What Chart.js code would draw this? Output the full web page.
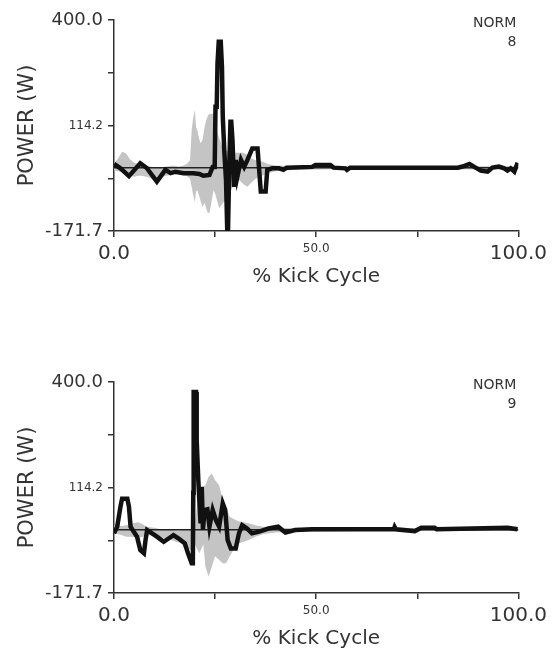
<!DOCTYPE html>
<html>
<head>
<meta charset="utf-8">
<script src="https://cdn.jsdelivr.net/npm/chart.js@4.4.0/dist/chart.umd.min.js"></script>
<style>
    body { margin: 0; background: #fff; width: 552px; height: 649px; overflow: hidden; }
    .panel { position: absolute; left: 0; width: 552px; height: 287px; }
</style>
</head>
<body>
<div class="panel" style="top:0px"><canvas id="chartTop" width="552" height="287"></canvas></div>
<div class="panel" style="top:362px"><canvas id="chartBottom" width="552" height="287"></canvas></div>
<script>
// axis ticks and labels
const xTicks = [0, 25, 50, 75, 100];
const xTickLabels = ['0.0', '', '50.0', '', '100.0'];
const yTicks = [-171.7, -28.775, 114.15, 257.075, 400];
const yTickLabels = ['-171.7', '', '114.2', '', '400.0'];
const zeroLineX = [0, 100];
const zeroLineY = [0, 0];

// panel 8 - subject curve (black)
const topLineX = [0, 1.6, 3.7, 6.5, 8.1, 10.6, 12.7, 14.0, 15.2, 17.2, 19.6, 21.1, 22.1, 23.6, 24.4,
    24.9, 25.1, 25.4, 25.6, 25.9, 26.4, 26.7, 26.9, 27.3, 27.7, 28.0, 28.2, 28.5, 28.8, 29.0, 29.3,
    29.7, 30.1, 30.5, 31.4, 32.2, 33.0, 34.2, 35.5, 35.9, 36.3, 37.5, 37.9, 39.1, 40.8, 41.9, 42.7,
    49.0, 49.8, 53.5, 54.3, 57.2, 57.6, 58.4, 85.0, 86.2, 87.9, 89.1, 90.7, 92.4, 93.6, 95.2, 96.5,
    97.3, 98.1, 99.0, 99.8];
const topLineY = [10, -2, -23, 12, -1, -38, -6, -15, -11, -15, -15, -17, -22, -20, 2,
    2, 165, 165, 283, 341, 341, 273, 138, 40, -34, -168, -168, 0, 124, 124, 75,
    -52, 21, -25, 21, 2, 21, 52, 52, -6, -65, -65, -6, -2, -2, -6, 0,
    2, 7, 7, 0, -2, -6, 0, 0, 3, 10, 2, -8, -11, 0, 3, -2,
    -8, -2, -11, 13];

// panel 8 - normal range (grey band)
const topBandX = [0, 1, 2, 3, 4, 5, 6, 7, 8, 9, 10, 11, 12, 13, 14, 15, 16, 17, 18, 18.8, 19.2, 19.5,
    20.0, 20.3, 20.6, 21.0, 21.4, 21.9, 22.4, 22.8, 23.2, 23.6, 24.0, 24.6, 25.0, 25.5, 26.0, 27.0,
    28.0, 29.0, 30.0, 31.0, 32.0, 33.0, 34.0, 35.0, 36.0, 37.0, 38.0, 40.0, 45.0, 50.0, 60.0, 70.0,
    80.0, 90.0, 100.0];
const topBandHi = [12, 25, 43, 38, 22, 13, 10, 8, 5, 3, 0, 2, 0, 3, 5, 5, 3, 5, 10, 21, 100, 129,
    156, 110, 102, 80, 66, 75, 110, 129, 140, 147, 145, 147, 138, 100, 80, 50,
    45, 40, 40, 40, 40, 35, 25, 20, 18, 15, 10, 6, 4, 4, 3, 3,
    3, 4, 4];
const topBandLo = [-8, -10, -12, -18, -22, -25, -22, -22, -25, -28, -34, -30, -25, -22, -20, -18, -18, -20, -22, -30, -52, -70,
    -94, -65, -61, -75, -90, -107, -95, -110, -123, -123, -100, -61, -70, -90, -110, -95,
    -80, -60, -40, -34, -45, -52, -40, -30, -25, -20, -15, -10, -6, -5, -4, -4,
    -4, -5, -5];

// panel 9 - subject curve (black)
const bottomLineX = [0, 0.8, 1.6, 2.0, 3.3, 3.7, 4.1, 4.9, 5.7, 6.5, 7.4, 7.8, 8.2, 9.4, 10.6, 12.3,
    13.5, 14.7, 16.0, 17.5, 18.3, 19.2, 19.5, 19.6, 19.7, 20.3, 20.45, 20.85, 21.4, 21.7, 22.0,
    22.4, 23.1, 23.6, 24.4, 25.2, 26.0, 26.9, 27.5, 28.1, 28.9, 30.1, 30.9, 31.7, 32.9, 34.1, 35.7,
    38.2, 40.6, 41.6, 42.4, 44.8, 49.0, 69.2, 69.4, 69.7, 74.4, 76.0, 79.3, 79.8, 97.3, 99.8];
const bottomLineY = [-10, 8, 62, 84, 84, 62, 8, -6, -19, -55, -64, -28, -1, -10, -19, -33,
    -24, -15, -24, -37, -64, -91, -91, 100, 373, 373, 242, 134, 17, 116, 0,
    53, 55, 8, 53, 26, 8, 71, 53, -28, -51, -51, -10, 12, 3, -10, -6,
    3, 8, -1, -8, -1, 1, 1, 7, 1, -4, 5, 5, 1, 5, 1];

// panel 9 - normal range (grey band)
const bottomBandX = [0, 1, 2, 3, 4, 5, 6, 7, 8, 10, 12, 14, 16, 17, 18, 19, 20, 21.1, 22.1, 22.6,
    23.4, 24.2, 25.0, 26.0, 26.9, 27.7, 28.6, 30.1, 31.0, 33.3, 35.0, 37.0, 40.0, 45.0, 50.0, 60.0,
    70.0, 80.0, 90.0, 100.0];
const bottomBandHi = [10, 12, 10, 12, 15, 18, 20, 15, 8, 5, 0, 0, -3, 0, 0, 0, 20, 107, 116, 120,
    143, 152, 134, 120, 80, 62, 35, 26, 22, 17, 12, 8, 6, 4, 4, 3,
    3, 3, 3, 3];
const bottomBandLo = [-10, -12, -15, -19, -19, -20, -22, -20, -15, -15, -22, -28, -35, -40, -50, -55, -40, -64, -40, -100,
    -128, -100, -72, -82, -91, -91, -72, -46, -37, -28, -19, -12, -8, -6, -6, -4,
    -4, -4, -4, -4];

const normLabels = [['NORM', '8'], ['NORM', '9']];

const textColor = '#333';
const fontFamily = "'DejaVu Sans', 'Liberation Sans', sans-serif";

// pair x and y lists into points
function toPoints(xs, ys) {
    return xs.map((x, i) => ({ x: x, y: ys[i] }));
}

// little label in the top right corner
const normPlugin = {
    id: 'normLabel',
    afterDraw(chart, args, opts) {
        const ctx = chart.ctx;
        const area = chart.chartArea;
        ctx.save();
        ctx.fillStyle = textColor;
        ctx.font = '14px ' + fontFamily;
        ctx.textAlign = 'right';
        ctx.textBaseline = 'middle';
        ctx.fillText(opts.lines[0], area.right - 2, area.top + 3);
        ctx.fillText(opts.lines[1], area.right - 2, area.top + 22);
        ctx.restore();
    }
};

// Create one power chart panel
function createPowerChart(id, lineX, lineY, bandX, bandHi, bandLo, norm) {
    const ctx = document.getElementById(id).getContext('2d');
    return new Chart(ctx, {
        type: 'line',
        data: {
            datasets: [
                {
                    label: 'Subject',
                    data: toPoints(lineX, lineY),
                    borderColor: '#111',
                    borderWidth: 4.5,
                    pointRadius: 0,
                    tension: 0,
                    fill: false,
                    order: 0
                },
                {
                    label: 'Zero',
                    data: toPoints(zeroLineX, zeroLineY),
                    borderColor: '#222',
                    borderWidth: 1.5,
                    pointRadius: 0,
                    fill: false,
                    order: 1
                },
                {
                    label: 'Norm upper',
                    data: toPoints(bandX, bandHi),
                    borderColor: 'rgba(0,0,0,0)',
                    borderWidth: 0,
                    backgroundColor: '#c4c4c4',
                    pointRadius: 0,
                    tension: 0,
                    fill: '+1',
                    order: 2
                },
                {
                    label: 'Norm lower',
                    data: toPoints(bandX, bandLo),
                    borderColor: 'rgba(0,0,0,0)',
                    borderWidth: 0,
                    pointRadius: 0,
                    tension: 0,
                    fill: false,
                    order: 3
                }
            ]
        },
        options: {
            responsive: false,
            animation: false,
            devicePixelRatio: 1,
            layout: { padding: { left: 0, right: 31, top: 20, bottom: 0 } },
            plugins: {
                legend: { display: false },
                tooltip: { enabled: false },
                normLabel: { lines: norm }
            },
            scales: {
                x: {
                    type: 'linear',
                    min: 0,
                    max: 100,
                    afterBuildTicks: s => { s.ticks = xTicks.map(v => ({ value: v })); },
                    afterFit: s => { s.height = 56; },
                    border: { color: textColor, width: 1.5 },
                    grid: { drawOnChartArea: false, color: textColor, lineWidth: 1.5, tickLength: 6 },
                    ticks: {
                        color: textColor,
                        padding: 5,
                        maxRotation: 0,
                        autoSkip: false,
                        callback: (value, index) => xTickLabels[index],
                        font: c => ({ family: fontFamily, size: c.index === 2 ? 12 : 20 })
                    },
                    title: {
                        display: true,
                        text: '% Kick Cycle',
                        color: textColor,
                        font: { family: fontFamily, size: 20, lineHeight: 1 },
                        padding: { top: 0, bottom: 0 }
                    }
                },
                y: {
                    min: -171.7,
                    max: 400,
                    afterBuildTicks: s => { s.ticks = yTicks.map(v => ({ value: v })); },
                    afterFit: s => { s.width = 114; },
                    border: { color: textColor, width: 1.5 },
                    grid: { drawOnChartArea: false, color: textColor, lineWidth: 1.5, tickLength: 6 },
                    ticks: {
                        color: textColor,
                        padding: 5,
                        autoSkip: false,
                        callback: (value, index) => yTickLabels[index],
                        font: c => ({ family: fontFamily, size: c.index === 2 ? 12 : 18 })
                    },
                    title: {
                        display: true,
                        text: 'POWER (W)',
                        color: textColor,
                        font: { family: fontFamily, size: 21 },
                        padding: { top: 15, bottom: 0 }
                    }
                }
            }
        },
        plugins: [normPlugin]
    });
}

createPowerChart('chartTop', topLineX, topLineY, topBandX, topBandHi, topBandLo, normLabels[0]);
createPowerChart('chartBottom', bottomLineX, bottomLineY, bottomBandX, bottomBandHi, bottomBandLo, normLabels[1]);
</script>
</body>
</html>
